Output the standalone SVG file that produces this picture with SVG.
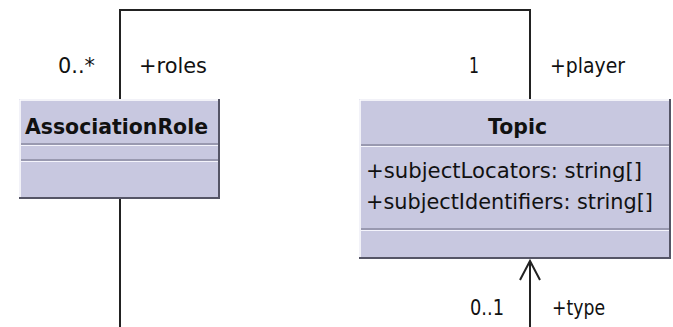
<svg xmlns="http://www.w3.org/2000/svg" width="673" height="327" viewBox="0 0 673 327">
<style>
.box{fill:#c8c8e0;stroke:none}
.hl{stroke:#ffffff;stroke-width:1.5;fill:none}
.sh{stroke:#555566;stroke-width:2;fill:none}
.sep{stroke:#6a6a80;stroke-width:1.2}
.sepw{stroke:#f4f4fc;stroke-width:1.2}
.t{font-family:"DejaVu Sans","Liberation Sans",sans-serif;font-size:21px;fill:#111}
.b{font-family:"DejaVu Sans","Liberation Sans",sans-serif;font-size:21px;font-weight:bold;fill:#111}
.ln{stroke:#222;stroke-width:2;fill:none}
</style>
<rect width="673" height="327" fill="#ffffff"/>
<g id="connectors">
<polyline class="ln" points="120,99 120,10 530,10 530,99"/>
<line class="ln" x1="120" y1="199" x2="120" y2="327"/>
<line class="ln" x1="530" y1="261" x2="530" y2="327"/>
<polyline class="ln" points="520,280 530,261 540,280" stroke-width="1.4"/>
<text class="t" x="58" y="73" textLength="37" lengthAdjust="spacingAndGlyphs">0..*</text>
<text class="t" x="139" y="73" textLength="68" lengthAdjust="spacingAndGlyphs">+roles</text>
<text class="t" x="469" y="73" textLength="10" lengthAdjust="spacingAndGlyphs">1</text>
<text class="t" x="550" y="73" textLength="75" lengthAdjust="spacingAndGlyphs">+player</text>
<text class="t" x="470" y="315" textLength="34" lengthAdjust="spacingAndGlyphs">0..1</text>
<text class="t" x="552" y="315" textLength="53" lengthAdjust="spacingAndGlyphs">+type</text>
</g>
<g id="AssociationRole">
<rect class="box" x="19" y="99" width="201" height="100"/>
<polyline class="hl" points="20,198 20,100 219,100"/>
<polyline class="sh" points="219,99 219,198 19,198"/>
<text class="b" x="25" y="134" textLength="183" lengthAdjust="spacingAndGlyphs">AssociationRole</text>
<line class="sep" x1="21" y1="144" x2="218" y2="144"/>
<line class="sepw" x1="21" y1="145.5" x2="218" y2="145.5"/>
<line class="sep" x1="21" y1="160" x2="218" y2="160"/>
<line class="sepw" x1="21" y1="161.5" x2="218" y2="161.5"/>
</g>
<g id="Topic">
<rect class="box" x="359" y="99" width="312" height="160"/>
<polyline class="hl" points="360,258 360,100 670,100"/>
<polyline class="sh" points="670,99 670,258 359,258"/>
<text class="b" x="488" y="134" textLength="59" lengthAdjust="spacingAndGlyphs">Topic</text>
<line class="sep" x1="361" y1="145" x2="669" y2="145"/>
<line class="sepw" x1="361" y1="146.5" x2="669" y2="146.5"/>
<text class="t" x="366" y="178" textLength="276" lengthAdjust="spacingAndGlyphs">+subjectLocators: string[]</text>
<text class="t" x="366" y="209" textLength="287" lengthAdjust="spacingAndGlyphs">+subjectIdentifiers: string[]</text>
<line class="sep" x1="361" y1="229" x2="669" y2="229"/>
<line class="sepw" x1="361" y1="230.5" x2="669" y2="230.5"/>
</g>
</svg>
